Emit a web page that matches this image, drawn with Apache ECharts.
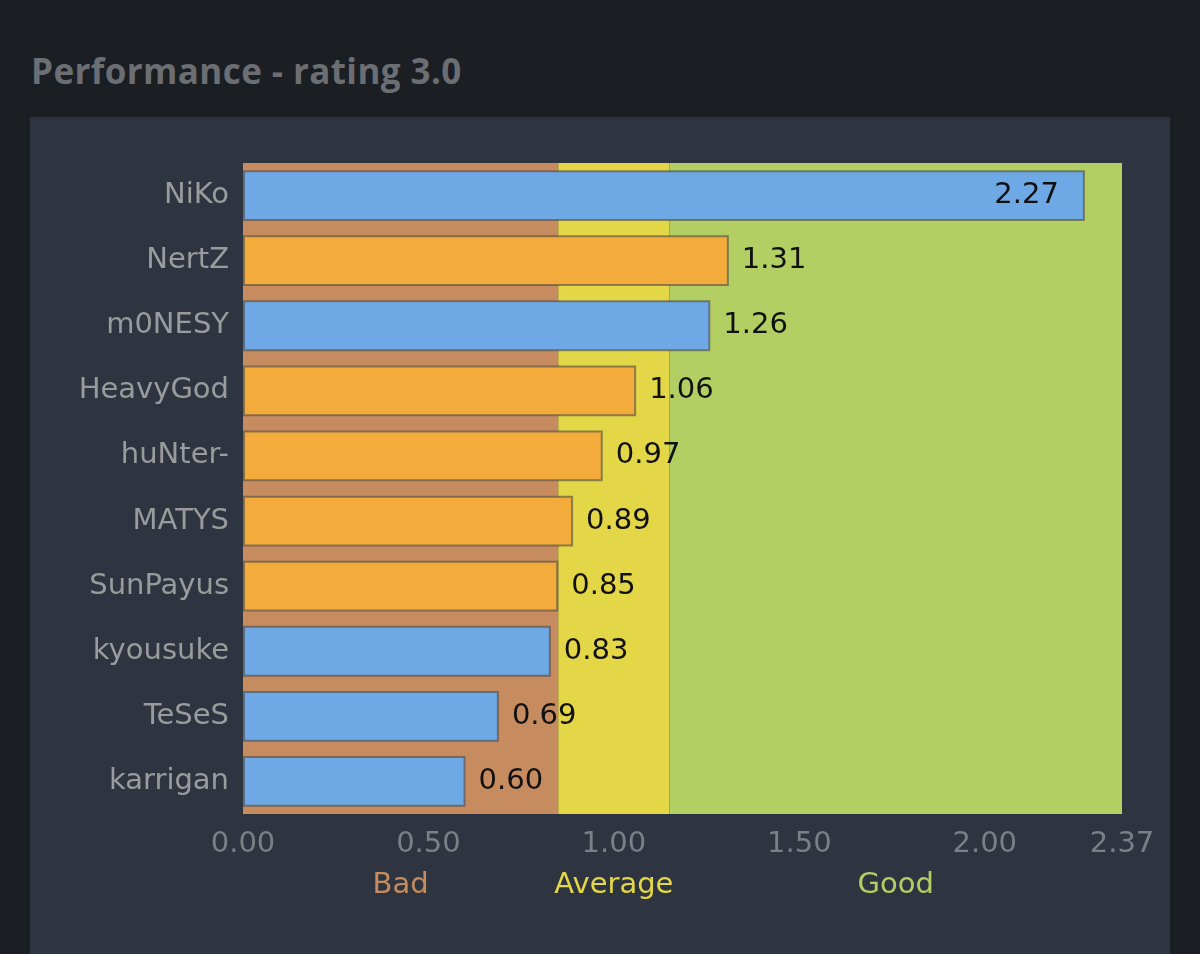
<!DOCTYPE html>
<html lang="en">
<head>
    <meta charset="UTF-8">
    <title>Performance - rating 3.0</title>
    <script src="https://cdn.jsdelivr.net/npm/echarts@6/dist/echarts.min.js"></script>
    <style>
        body {
            margin: 0;
            padding: 0;
            overflow: hidden;
            background: #1b1e23;
        }
        #title {
            position: absolute;
            left: 31px;
            top: 47px;
            font-family: "Open Sans", sans-serif;
            font-weight: bold;
            font-size: 35px;
            letter-spacing: 0.4px;
            color: #6b6e73;
        }
        #panel {
            position: absolute;
            left: 30px;
            top: 117px;
            width: 1140px;
            height: 837px;
            background: #2e3540;
        }
        #main {
            position: absolute;
            left: 0;
            top: 0;
            width: 1200px;
            height: 954px;
        }
    </style>
</head>
<body>
    <div id="title">Performance - rating 3.0</div>
    <div id="panel"></div>
    <div id="main"></div>
</body>
<script>
    var players = ['NiKo', 'NertZ', 'm0NESY', 'HeavyGod', 'huNter-', 'MATYS', 'SunPayus', 'kyousuke', 'TeSeS', 'karrigan'];
    var ratings = [2.27, 1.31, 1.26, 1.06, 0.97, 0.89, 0.85, 0.83, 0.69, 0.60];
    var teams = ['blue', 'orange', 'blue', 'orange', 'orange', 'orange', 'orange', 'blue', 'blue', 'blue'];
    var bands = [
        { name: 'Bad', from: 0, to: 0.85, color: '#c68b5e' },
        { name: 'Average', from: 0.85, to: 1.15, color: '#e3d647' },
        { name: 'Good', from: 1.15, to: 2.37, color: '#b3cf63' }
    ];

    var teamColors = { blue: '#6ea8e5', orange: '#f3ac3b' };
    var font = 'DejaVu Sans';

    var app = echarts.init(document.getElementById('main'));

    var option = {
        animation: false,
        grid: {
            left: 243,
            right: 78,
            top: 163,
            bottom: 140
        },
        xAxis: {
            type: 'value',
            min: 0,
            max: 2.37,
            interval: 0.5,
            splitLine: { show: false },
            axisLine: { show: false },
            axisTick: { show: false },
            axisLabel: {
                showMaxLabel: true,
                color: '#7b7f86',
                fontFamily: font,
                fontSize: 29,
                margin: 16,
                formatter: function(v) {
                    return v.toFixed(2);
                }
            }
        },
        yAxis: {
            type: 'category',
            inverse: true,
            data: players,
            axisLine: { show: false },
            axisTick: { show: false },
            axisLabel: {
                color: '#9a9b9d',
                fontFamily: font,
                fontSize: 29,
                margin: 14
            }
        },
        series: [{
            type: 'bar',
            barCategoryGap: '22%',
            data: ratings.map(function(v, i) {
                var item = {
                    value: v,
                    itemStyle: { color: teamColors[teams[i]] }
                };
                if (v > 2) {
                    // the top bar has its label inside
                    item.label = { position: 'insideRight', distance: 26 };
                }
                return item;
            }),
            itemStyle: {
                borderColor: 'rgba(75,75,75,0.6)',
                borderWidth: 2
            },
            label: {
                show: true,
                position: 'right',
                distance: 13,
                color: '#111',
                fontFamily: font,
                fontSize: 29,
                formatter: function(p) {
                    return p.value.toFixed(2);
                }
            },
            markArea: {
                silent: true,
                data: bands.map(function(b) {
                    return [{
                        xAxis: b.from,
                        itemStyle: { color: b.color, opacity: 1 },
                        label: {
                            show: true,
                            position: 'bottom',
                            distance: 57,
                            color: b.color,
                            fontFamily: font,
                            fontSize: 29
                        },
                        name: b.name
                    }, {
                        xAxis: b.to
                    }];
                })
            }
        }]
    };
    app.setOption(option);
</script>
</html>
